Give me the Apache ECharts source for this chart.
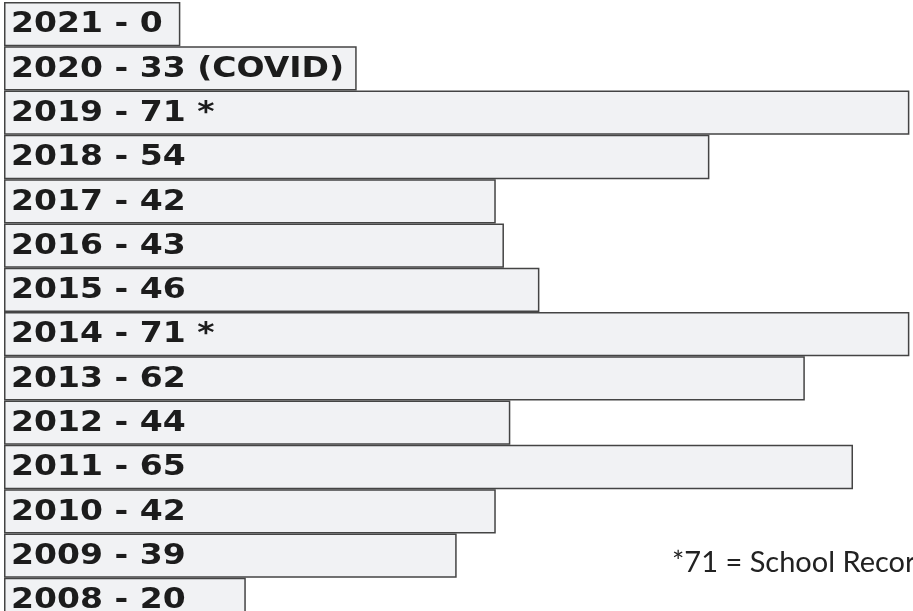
<!DOCTYPE html>
<html>
<head>
<meta charset="utf-8">
<script src="https://cdn.jsdelivr.net/npm/echarts@6/dist/echarts.min.js"></script>
<style>
html,body{margin:0;padding:0;background:#fff;overflow:hidden;}
#chart{width:913px;height:622px;}
</style>
</head>
<body>
<div id="chart"></div>
<script>
const years = ['2021','2020','2019','2018','2017','2016','2015','2014','2013','2012','2011','2010','2009','2008'];
const barLabels = ['2021 - 0','2020 - 33 (COVID)','2019 - 71 *','2018 - 54','2017 - 42','2016 - 43','2015 - 46','2014 - 71 *','2013 - 62','2012 - 44','2011 - 65','2010 - 42','2009 - 39','2008 - 20'];
// bar lengths as drawn in the picture (percent of full width)
const barLength = [19.4, 38.8, 99.6, 77.6, 54.1, 55.0, 58.9, 99.6, 88.1, 55.7, 93.4, 54.1, 49.8, 26.6];
const footnote = '*71 = School Record';

const chart = echarts.init(document.getElementById('chart'), null, {renderer:'canvas'});
chart.setOption({
  animation: false,
  backgroundColor: '#ffffff',
  grid: {left: 4, top: 2, right: 0, bottom: 0, containLabel: false},
  xAxis: {type: 'value', min: 0, max: 100, show: false},
  yAxis: {type: 'category', data: years, inverse: true, show: false},
  series: [
    {
      type: 'bar',
      data: barLength,
      barCategoryGap: '0%',
      barWidth: '100%',
      itemStyle: {color: '#f1f2f4', borderColor: '#444444', borderWidth: 1.5},
      silent: true
    },
    {
      type: 'custom',
      data: barLength.map((v, i) => [0, i]),
      encode: {x: 0, y: 1},
      renderItem: function (params, api) {
        const p = api.coord([0, api.value(1)]);
        return {
          type: 'text',
          x: p[0] + 7,
          y: p[1] + 1,
          scaleX: 1.18,
          scaleY: 1,
          style: {
            x: 0, y: 0,
            text: barLabels[params.dataIndex],
            fill: '#1c1c1c',
            font: 'bold 28px "DejaVu Sans"',
            verticalAlign: 'middle',
            align: 'left'
          }
        };
      },
      silent: true,
      z: 5
    }
  ],
  graphic: [{
    type: 'text',
    left: 672,
    top: 548,
    style: {
      text: footnote,
      fill: '#222222',
      font: '29px Lato'
    }
  }]
});
</script>
</body>
</html>
